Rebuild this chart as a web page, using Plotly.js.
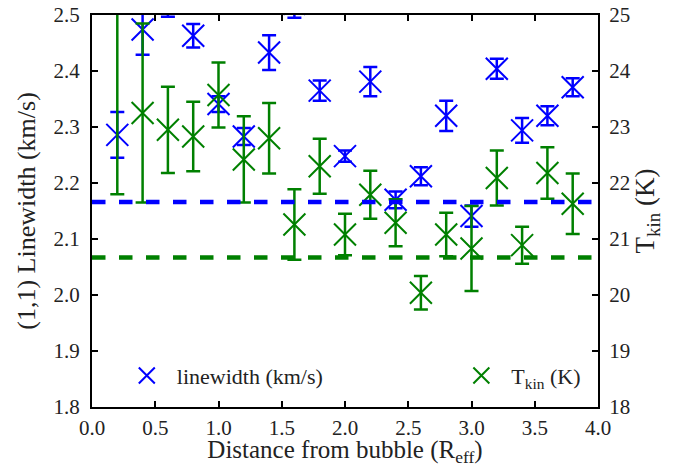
<!DOCTYPE html>
<html>
<head>
<meta charset="utf-8">
<script src="https://cdn.plot.ly/plotly-3.0.1.min.js"></script>
<style>body{margin:0;background:#fff}</style>
</head>
<body>
<div id="myDiv" style="width:676px;height:467px"></div>
<script>
var distance = [0.2, 0.4, 0.6, 0.8, 1.0, 1.2, 1.4, 1.6, 1.8, 2.0, 2.2, 2.4, 2.6, 2.8, 3.0, 3.2, 3.4, 3.6, 3.8];

var linewidth    = [2.286, 2.474, 2.53, 2.463, 2.341, 2.283, 2.433, 2.52, 2.365, 2.248, 2.381, 2.170, 2.212, 2.320, 2.141, 2.404, 2.294, 2.320, 2.371];
var linewidthErr = [0.041, 0.045, 0.033, 0.021, 0.014, 0.015, 0.031, 0.025, 0.018, 0.010, 0.026, 0.015, 0.016, 0.027, 0.019, 0.018, 0.022, 0.017, 0.016];

var tkin    = [25.9, 23.25, 22.95, 22.83, 23.57, 22.42, 22.80, 21.26, 22.30, 21.08, 21.79, 21.29, 20.04, 21.08, 20.83, 22.09, 20.89, 22.18, 21.63];
var tkinErr = [4.1, 1.6, 0.77, 0.62, 0.58, 0.77, 0.63, 0.63, 0.49, 0.37, 0.43, 0.42, 0.30, 0.39, 0.76, 0.49, 0.33, 0.46, 0.54];

var meanLinewidth = 2.166;
var meanTkin = 20.67;

var blue = "#0000ff";
var green = "#008000";
var serif = "Liberation Serif";

var lwTrace = {
    x: distance, y: linewidth,
    type: 'scatter', mode: 'markers',
    name: 'linewidth (km/s)',
    legend: 'legend',
    marker: {symbol: 'x-thin-open', size: 22, color: blue, line: {color: blue, width: 2}},
    error_y: {type: 'data', array: linewidthErr, visible: true, color: blue, thickness: 2.5, width: 7}
};

var tkTrace = {
    x: distance, y: tkin,
    yaxis: 'y2',
    type: 'scatter', mode: 'markers',
    name: 'T<sub>kin</sub> (K)',
    legend: 'legend2',
    marker: {symbol: 'x-thin-open', size: 22, color: green, line: {color: green, width: 2}},
    error_y: {type: 'data', array: tkinErr, visible: true, color: green, thickness: 2.5, width: 7}
};

var axisStyle = {
    showgrid: false, zeroline: false,
    showline: true, linecolor: '#000', linewidth: 2,
    ticks: 'inside', ticklen: 6, tickwidth: 1.5, tickcolor: '#000',
    tickfont: {family: serif, size: 21, color: '#222'}
};

var layout = {
    width: 676,
    height: 467,
    margin: {l: 92, r: 78, t: 15, b: 60},
    font: {family: serif, color: '#222'},
    paper_bgcolor: '#fff',
    plot_bgcolor: '#fff',
    showlegend: true,
    xaxis: Object.assign({}, axisStyle, {
        range: [0, 4], dtick: 0.5, tickformat: '.1f', mirror: 'ticks', ticklabelstandoff: 1,
        title: {text: 'Distance from bubble (R<sub>eff</sub>)', font: {family: serif, size: 25, color: '#222'}, standoff: 6}
    }),
    yaxis: Object.assign({}, axisStyle, {
        range: [1.8, 2.5], dtick: 0.1, tickformat: '.1f', ticklabelstandoff: 6,
        title: {text: '(1,1) Linewidth (km/s)', font: {family: serif, size: 26, color: '#222'}, standoff: 10}
    }),
    yaxis2: Object.assign({}, axisStyle, {
        range: [18, 25], dtick: 1, overlaying: 'y', side: 'right', ticklabelstandoff: 5,
        title: {text: 'T<sub>kin</sub> (K)', font: {family: serif, size: 27, color: '#222'}, standoff: 4}
    }),
    legend: {x: 0.049, y: 0.08, xanchor: 'left', yanchor: 'middle', bgcolor: 'rgba(0,0,0,0)',
             itemwidth: 50, font: {family: serif, size: 22, color: '#222'}},
    legend2: {x: 0.977, y: 0.08, xanchor: 'right', yanchor: 'middle', bgcolor: 'rgba(0,0,0,0)',
              itemwidth: 50, font: {family: serif, size: 22, color: '#222'}},
    shapes: [
        {type: 'line', xref: 'paper', x0: 0, x1: 1, yref: 'y', y0: meanLinewidth, y1: meanLinewidth,
         line: {color: blue, width: 4.5, dash: '13.5px,13.5px'}},
        {type: 'line', xref: 'paper', x0: 0, x1: 1, yref: 'y2', y0: meanTkin, y1: meanTkin,
         line: {color: green, width: 4.5, dash: '13.5px,13.5px'}}
    ]
};

Plotly.newPlot('myDiv', [lwTrace, tkTrace], layout, {displayModeBar: false});
</script>
</body>
</html>
